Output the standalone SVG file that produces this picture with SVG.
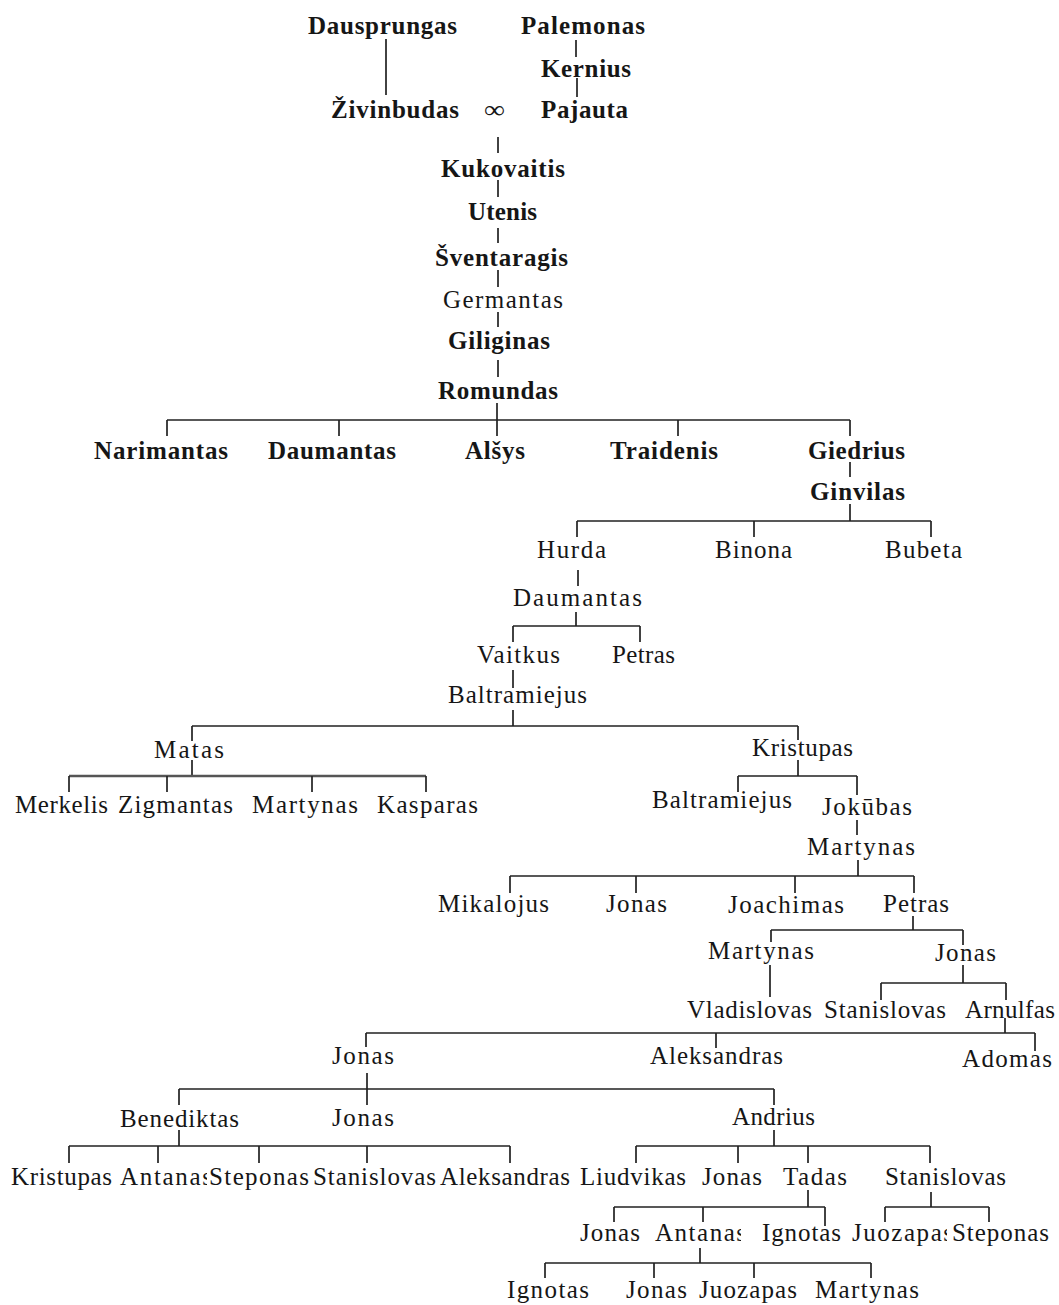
<svg xmlns="http://www.w3.org/2000/svg" width="1059" height="1305" viewBox="0 0 1059 1305">
<style>
text{font-family:"Liberation Serif","Times New Roman",serif;font-size:25px;fill:#161616}
.b{font-weight:bold}
.c{fill:none;stroke:#222;stroke-width:1.7}
.g{fill:none;stroke:#555;stroke-width:2.4}
</style>
<defs>
<clipPath id="clA1"><rect x="100" y="1160" width="107" height="40"/></clipPath>
<clipPath id="clA2"><rect x="640" y="1218" width="101" height="40"/></clipPath>
<clipPath id="clJ2"><rect x="840" y="1218" width="107" height="40"/></clipPath>
</defs>
<rect width="1059" height="1305" fill="#fff"/>
<g id="connectors">
<path class="c" d="M386,39V95M576,40V57M577,78V97M498,137V153M498,180V197M498,228V243M498,270V287M498,312V327M498,360V377M497,403V436M167,420H850M167,420V436M339,420V436M678,420V436M850,420V436M850,462V477M850,504V521M577,521H931M577,521V537M754,521V537M931,521V537M578,570V586M576,612V626M513,626H640M513,626V642M640,626V642M513,670V688M513,710V726M192,726H798M192,726V741M798,726V740M192,760V776"/>
<path class="g" d="M69,776H426"/>
<path class="c" d="M69,776V792M167,776V792M312,776V792M426,776V792M798,760V776M738,776H857M738,776V792M857,776V795M857,820V835M858,860V876M510,876H914M510,876V893M636,876V893M795,876V893M914,876V893M913,916V930M771,930H963M771,930V942M963,930V945M770,965V997M963,965V983M881,983H1006M881,983V1000M1006,983V1000M1005,1018V1033M366,1033H1035M366,1033V1047M716,1033V1048M1035,1033V1051M367,1073V1089M179,1089H774M179,1089V1105M367,1089V1105M774,1089V1105M179,1130V1146M69,1146H510M69,1146V1163M158,1146V1163M259,1146V1163M367,1146V1163M510,1146V1163M774,1130V1146M636,1146H930M636,1146V1163M738,1146V1163M808,1146V1163M930,1146V1163M808,1190V1207M614,1207H825M614,1207V1222M703,1207V1222M825,1207V1226M931,1192V1207M885,1207H989M885,1207V1222M989,1207V1222M700,1248V1263M545,1263H871M545,1263V1278M654,1263V1278M754,1263V1278M871,1263V1278"/>
</g>
<g id="n_dausprungas"><text class="b" x="308" y="34" textLength="149" lengthAdjust="spacing">Dausprungas</text></g>
<g id="n_palemonas"><text class="b" x="521" y="34" textLength="124" lengthAdjust="spacing">Palemonas</text></g>
<g id="n_kernius"><text class="b" x="541" y="77" textLength="90" lengthAdjust="spacing">Kernius</text></g>
<g id="n_zivinbudas"><text class="b" x="331" y="118" textLength="128" lengthAdjust="spacing">Živinbudas</text></g>
<g id="n_marriage"><text x="484" y="118" textLength="21" lengthAdjust="spacingAndGlyphs">∞</text></g>
<g id="n_pajauta"><text class="b" x="541" y="118" textLength="87" lengthAdjust="spacing">Pajauta</text></g>
<g id="n_kukovaitis"><text class="b" x="441" y="177" textLength="124" lengthAdjust="spacing">Kukovaitis</text></g>
<g id="n_utenis"><text class="b" x="468" y="220" textLength="69" lengthAdjust="spacing">Utenis</text></g>
<g id="n_sventaragis"><text class="b" x="435" y="266" textLength="133" lengthAdjust="spacing">Šventaragis</text></g>
<g id="n_germantas"><text x="443" y="308" textLength="120" lengthAdjust="spacing">Germantas</text></g>
<g id="n_giliginas"><text class="b" x="448" y="349" textLength="102" lengthAdjust="spacing">Giliginas</text></g>
<g id="n_romundas"><text class="b" x="438" y="399" textLength="120" lengthAdjust="spacing">Romundas</text></g>
<g id="n_narimantas"><text class="b" x="94" y="459" textLength="134" lengthAdjust="spacing">Narimantas</text></g>
<g id="n_daumantas1"><text class="b" x="268" y="459" textLength="128" lengthAdjust="spacing">Daumantas</text></g>
<g id="n_alsys"><text class="b" x="465" y="459" textLength="60" lengthAdjust="spacing">Alšys</text></g>
<g id="n_traidenis"><text class="b" x="610" y="459" textLength="108" lengthAdjust="spacing">Traidenis</text></g>
<g id="n_giedrius"><text class="b" x="808" y="459" textLength="97" lengthAdjust="spacing">Giedrius</text></g>
<g id="n_ginvilas"><text class="b" x="810" y="500" textLength="95" lengthAdjust="spacing">Ginvilas</text></g>
<g id="n_hurda"><text x="537" y="558" textLength="69" lengthAdjust="spacing">Hurda</text></g>
<g id="n_binona"><text x="715" y="558" textLength="77" lengthAdjust="spacing">Binona</text></g>
<g id="n_bubeta"><text x="885" y="558" textLength="77" lengthAdjust="spacing">Bubeta</text></g>
<g id="n_daumantas2"><text x="513" y="606" textLength="129" lengthAdjust="spacing">Daumantas</text></g>
<g id="n_vaitkus"><text x="477" y="663" textLength="83" lengthAdjust="spacing">Vaitkus</text></g>
<g id="n_petras1"><text x="612" y="663" textLength="63" lengthAdjust="spacing">Petras</text></g>
<g id="n_baltramiejus1"><text x="448" y="703" textLength="139" lengthAdjust="spacing">Baltramiejus</text></g>
<g id="n_matas"><text x="154" y="758" textLength="70" lengthAdjust="spacing">Matas</text></g>
<g id="n_kristupas1"><text x="752" y="756" textLength="101" lengthAdjust="spacing">Kristupas</text></g>
<g id="n_merkelis"><text x="15" y="813" textLength="93" lengthAdjust="spacing">Merkelis</text></g>
<g id="n_zigmantas"><text x="118" y="813" textLength="115" lengthAdjust="spacing">Zigmantas</text></g>
<g id="n_martynas1"><text x="252" y="813" textLength="106" lengthAdjust="spacing">Martynas</text></g>
<g id="n_kasparas"><text x="377" y="813" textLength="101" lengthAdjust="spacing">Kasparas</text></g>
<g id="n_baltramiejus2"><text x="652" y="808" textLength="140" lengthAdjust="spacing">Baltramiejus</text></g>
<g id="n_jokubas"><text x="822" y="815" textLength="90" lengthAdjust="spacing">Jokūbas</text></g>
<g id="n_martynas2"><text x="807" y="855" textLength="108" lengthAdjust="spacing">Martynas</text></g>
<g id="n_mikalojus"><text x="438" y="912" textLength="111" lengthAdjust="spacing">Mikalojus</text></g>
<g id="n_jonas1"><text x="606" y="912" textLength="61" lengthAdjust="spacing">Jonas</text></g>
<g id="n_joachimas"><text x="728" y="913" textLength="116" lengthAdjust="spacing">Joachimas</text></g>
<g id="n_petras2"><text x="883" y="912" textLength="66" lengthAdjust="spacing">Petras</text></g>
<g id="n_martynas3"><text x="708" y="959" textLength="106" lengthAdjust="spacing">Martynas</text></g>
<g id="n_jonas2"><text x="935" y="961" textLength="61" lengthAdjust="spacing">Jonas</text></g>
<g id="n_vladislovas"><text x="687" y="1018" textLength="125" lengthAdjust="spacing">Vladislovas</text></g>
<g id="n_stanislovas1"><text x="824" y="1018" textLength="122" lengthAdjust="spacing">Stanislovas</text></g>
<g id="n_arnulfas"><text x="965" y="1018" textLength="90" lengthAdjust="spacing">Arnulfas</text></g>
<g id="n_jonas3"><text x="332" y="1064" textLength="62" lengthAdjust="spacing">Jonas</text></g>
<g id="n_aleksandras1"><text x="650" y="1064" textLength="133" lengthAdjust="spacing">Aleksandras</text></g>
<g id="n_adomas"><text x="962" y="1067" textLength="90" lengthAdjust="spacing">Adomas</text></g>
<g id="n_benediktas"><text x="120" y="1127" textLength="119" lengthAdjust="spacing">Benediktas</text></g>
<g id="n_jonas4"><text x="332" y="1126" textLength="62" lengthAdjust="spacing">Jonas</text></g>
<g id="n_andrius"><text x="732" y="1125" textLength="83" lengthAdjust="spacing">Andrius</text></g>
<g id="n_kristupas2"><text x="11" y="1185" textLength="101" lengthAdjust="spacing">Kristupas</text></g>
<g id="n_antanas1"><text x="120" y="1185" textLength="92" lengthAdjust="spacing" clip-path="url(#clA1)">Antanas</text></g>
<g id="n_steponas1"><text x="209" y="1185" textLength="100" lengthAdjust="spacing">Steponas</text></g>
<g id="n_stanislovas2"><text x="313" y="1185" textLength="123" lengthAdjust="spacing">Stanislovas</text></g>
<g id="n_aleksandras2"><text x="440" y="1185" textLength="130" lengthAdjust="spacing">Aleksandras</text></g>
<g id="n_liudvikas"><text x="580" y="1185" textLength="106" lengthAdjust="spacing">Liudvikas</text></g>
<g id="n_jonas5"><text x="702" y="1185" textLength="60" lengthAdjust="spacing">Jonas</text></g>
<g id="n_tadas"><text x="783" y="1185" textLength="64" lengthAdjust="spacing">Tadas</text></g>
<g id="n_stanislovas3"><text x="885" y="1185" textLength="121" lengthAdjust="spacing">Stanislovas</text></g>
<g id="n_jonas6"><text x="580" y="1241" textLength="60" lengthAdjust="spacing">Jonas</text></g>
<g id="n_antanas2"><text x="655" y="1241" textLength="91" lengthAdjust="spacing" clip-path="url(#clA2)">Antanas</text></g>
<g id="n_ignotas1"><text x="762" y="1241" textLength="79" lengthAdjust="spacing">Ignotas</text></g>
<g id="n_juozapas1"><text x="852" y="1241" textLength="101" lengthAdjust="spacing" clip-path="url(#clJ2)">Juozapas</text></g>
<g id="n_steponas2"><text x="952" y="1241" textLength="97" lengthAdjust="spacing">Steponas</text></g>
<g id="n_ignotas2"><text x="507" y="1298" textLength="82" lengthAdjust="spacing">Ignotas</text></g>
<g id="n_jonas7"><text x="626" y="1298" textLength="61" lengthAdjust="spacing">Jonas</text></g>
<g id="n_juozapas2"><text x="699" y="1298" textLength="98" lengthAdjust="spacing">Juozapas</text></g>
<g id="n_martynas4"><text x="815" y="1298" textLength="104" lengthAdjust="spacing">Martynas</text></g>
</svg>
